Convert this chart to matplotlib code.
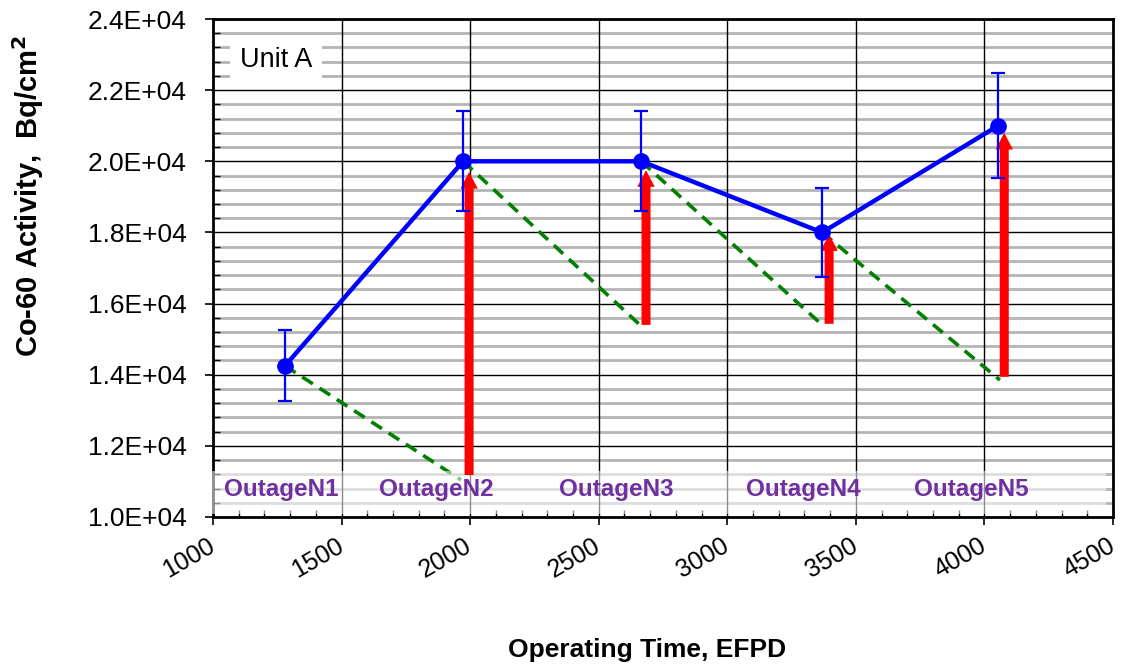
import numpy as np
import matplotlib.pyplot as plt
from matplotlib.patches import Rectangle
from matplotlib.transforms import ScaledTranslation
from matplotlib.ticker import MultipleLocator, FormatStrFormatter

plt.rcParams['font.family'] = ['Liberation Sans', 'DejaVu Sans']

# measured Co-60 activity at each outage
efpd = [1280, 1973, 2665, 3369, 4053]
activity = [14250, 20000, 20000, 18000, 21000]
activity_err = [1000, 1400, 1400, 1260, 1470]

# decay between outages: start point -> value just before the next outage
decay_x_end = [1965, 2665, 3369, 4060]
decay_y_end = [11040, 15370, 15400, 13850]

# build-up arrows during each cycle
arrow_x = [1996, 2684, 3396, 4077]
arrow_bottom = [11180, 15400, 15430, 13940]
arrow_top = [19700, 19750, 17950, 20800]

outage_names = ['OutageN1', 'OutageN2', 'OutageN3', 'OutageN4', 'OutageN5']
outage_x = [1266, 1868, 2568, 3295, 3950]

fig = plt.figure(figsize=(11.34, 6.65), dpi=100)
ax = fig.add_axes([0.1878, 0.2226, 0.7937, 0.7488])

ax.set_xlim(1000, 4500)
ax.set_ylim(10000, 24000)
ax.xaxis.set_major_locator(MultipleLocator(500))
ax.xaxis.set_minor_locator(MultipleLocator(100))
ax.yaxis.set_major_locator(MultipleLocator(2000))
ax.yaxis.set_minor_locator(MultipleLocator(400))
ax.yaxis.set_major_formatter(FormatStrFormatter('%.1E'))

# grid: grey minor rows underneath, black major rows and columns on top
ax.grid(which='minor', axis='y', color='#b4b4b4', lw=2.0, zorder=0)
ax.grid(which='major', axis='y', color='black', lw=1.0, zorder=0.5)
for xv in np.arange(1500, 4500, 500):
    ax.axvline(xv, color='black', lw=1.0, zorder=1)
ax.set_axisbelow(True)

for s in ax.spines.values():
    s.set_linewidth(2.0)

ax.tick_params(which='major', direction='out', length=6, width=1.2)
ax.tick_params(axis='y', which='major', pad=13, labelsize=19)
ax.tick_params(axis='x', which='major', pad=6, labelsize=18)
ax.tick_params(which='minor', direction='in', length=5, width=1.0)
shift = ScaledTranslation(-0.06, 0, fig.dpi_scale_trans)
for lab in ax.get_xticklabels():
    lab.set_rotation(30)
    lab.set_ha('right')
    lab.set_rotation_mode('anchor')
    lab.set_transform(lab.get_transform() + shift)

# decay lines
for i in range(len(decay_x_end)):
    ax.plot([efpd[i], decay_x_end[i]], [activity[i], decay_y_end[i]],
            color='#008000', lw=2.6, ls=(0, (3.5, 2.2)), zorder=2)

# pale label strip along the bottom
strip = Rectangle((987, 10080), 3485, 1220, facecolor='white', alpha=0.55,
                  edgecolor='none', zorder=3, clip_on=False)
ax.add_patch(strip)

for name, xo in zip(outage_names, outage_x):
    ax.text(xo, 10780, name, color='#7030A0', fontsize=17.5, fontweight='bold',
            ha='center', va='center', zorder=7)

# build-up arrows
for xa, yb, yt in zip(arrow_x, arrow_bottom, arrow_top):
    ax.annotate('', xy=(xa, yt), xytext=(xa, yb),
                arrowprops=dict(arrowstyle='simple,head_width=1.25,head_length=1.2,tail_width=0.65',
                                mutation_scale=10, color='red', lw=0,
                                shrinkA=0, shrinkB=0),
                zorder=5)

ax.errorbar(efpd, activity, yerr=activity_err, color='blue', lw=3.2,
            marker='o', ms=11, ecolor='blue', elinewidth=1.6, capsize=5,
            capthick=1.6, zorder=6)

ax.text(1105, 22850, 'Unit A', fontsize=19.5, ha='left', va='center',
        bbox=dict(facecolor='white', edgecolor='none', pad=7), zorder=7)

# axis titles placed in figure pixels
fig.text(647 / 1134, 1 - 650 / 665, 'Operating Time, EFPD', fontsize=19,
         fontweight='bold', ha='center', va='center')
fig.text(28 / 1134, 1 - 196 / 665, 'Co-60 Activity,  Bq/cm$^\\mathbf{2}$',
         fontsize=21, fontweight='bold', rotation=90, ha='center', va='center')

fig.savefig('out.png', dpi=100)
